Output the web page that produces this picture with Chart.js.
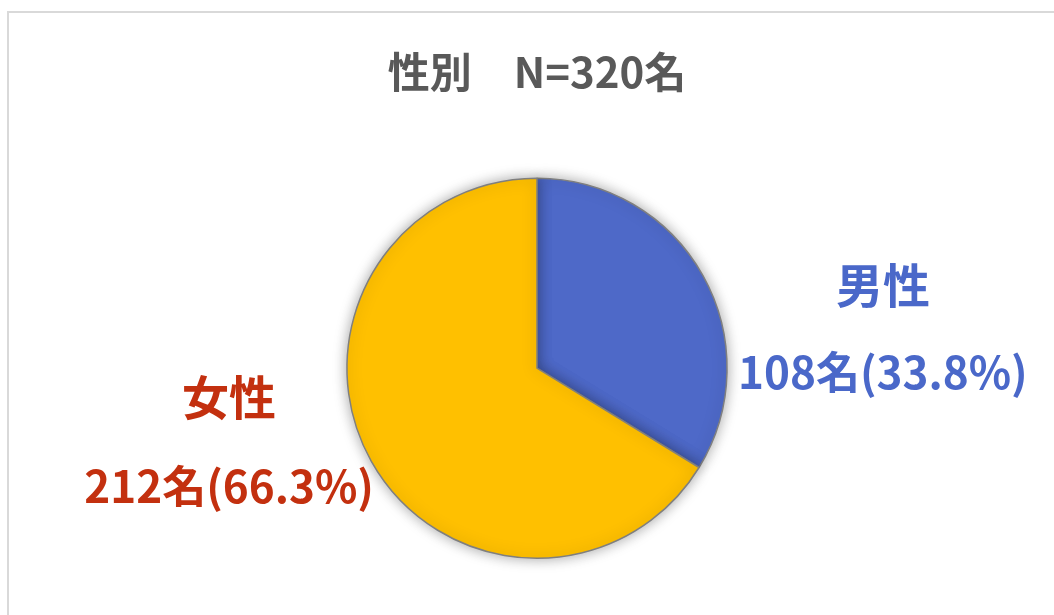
<!DOCTYPE html>
<html lang="ja">
<head>
  <meta charset="UTF-8" />
  <title>性別 N=320名</title>
  <script src="https://cdn.jsdelivr.net/npm/chart.js"></script>
  <style>
    body {
      margin: 0;
      background: #fff;
      overflow: hidden;
    }
    .frame {
      position: absolute;
      left: 7px;
      top: 11px;
      width: 1200px;
      height: 800px;
      border-left: 2px solid #d9d9d9;
      border-top: 2px solid #d9d9d9;
    }
    .wrap {
      position: absolute;
      left: 0;
      top: 0;
      width: 1054px;
      height: 615px;
    }
  </style>
</head>
<body>
  <div class="frame"></div>
  <div class="wrap"><canvas id="pie"></canvas></div>

  <script>
    const titleText = '性別　N=320名';
    const genders = ['男性', '女性'];
    const counts = [108, 212];
    const percents = [33.8, 66.3];
    const sliceColors = ['#4E69C8', '#FFC000'];
    const labelColors = ['#4A68C9', '#C3300F'];

    const FONT = '"Noto Sans CJK JP", "Noto Sans", sans-serif';

    // labels sit outside the pie, offsets in units of the radius
    const outsideLabels = {
      id: 'outsideLabels',
      afterDatasetsDraw(chart) {
        const ctx = chart.ctx;
        const arcs = chart.getDatasetMeta(0).data;
        const spots = [
          { dx: 1.82, nameDy: -0.435, valueDy: 0.02 },
          { dx: -1.62, nameDy: 0.15, valueDy: 0.62 }
        ];
        ctx.save();
        ctx.textAlign = 'center';
        ctx.textBaseline = 'middle';
        arcs.forEach((arc, i) => {
          const r = arc.outerRadius;
          const x = arc.x + spots[i].dx * r;
          ctx.fillStyle = labelColors[i];
          ctx.font = 'bold 47px ' + FONT;
          ctx.fillText(genders[i], x, arc.y + spots[i].nameDy * r);
          ctx.font = 'bold 44px ' + FONT;
          ctx.fillText(counts[i] + '名(' + percents[i].toFixed(1) + '%)', x, arc.y + spots[i].valueDy * r);
        });
        ctx.restore();
      }
    };

    const softShadow = {
      id: 'softShadow',
      beforeDatasetsDraw(chart) {
        const ctx = chart.ctx;
        ctx.save();
        ctx.shadowColor = 'rgba(0,0,0,0.35)';
        ctx.shadowBlur = 14;
        ctx.shadowOffsetX = 0;
        ctx.shadowOffsetY = 0;
      },
      afterDatasetsDraw(chart) {
        chart.ctx.restore();
      }
    };

    new Chart(document.getElementById('pie'), {
      type: 'pie',
      data: {
        labels: genders,
        datasets: [{
          data: counts,
          backgroundColor: sliceColors,
          borderColor: '#7f7f7f',
          borderWidth: 1.5
        }]
      },
      options: {
        responsive: true,
        maintainAspectRatio: false,
        animation: false,
        layout: { padding: { left: 20, right: 0, top: 0, bottom: 56 } },
        plugins: {
          legend: { display: false },
          tooltip: { enabled: false },
          title: {
            display: true,
            text: titleText,
            color: '#595959',
            font: { family: FONT, size: 42, weight: 'bold', lineHeight: 1.2 },
            padding: { top: 47, bottom: 80 }
          }
        }
      },
      plugins: [softShadow, outsideLabels]
    });
  </script>
</body>
</html>
